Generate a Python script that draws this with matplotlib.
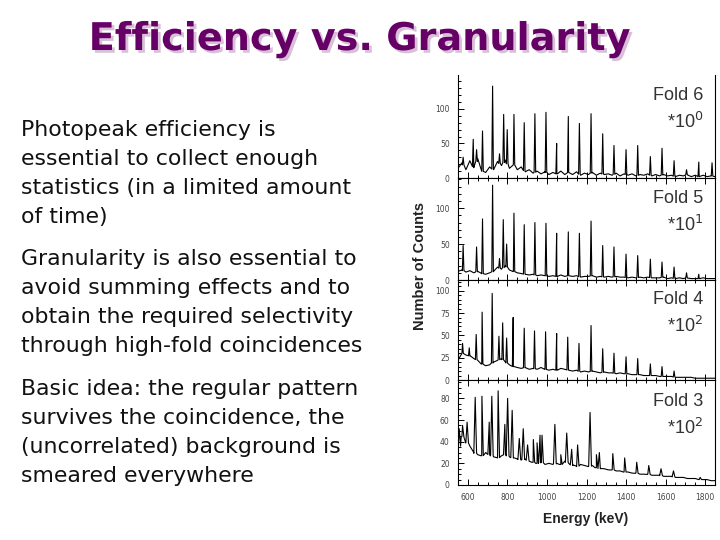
import matplotlib
matplotlib.use("Agg")
import matplotlib.pyplot as plt
import matplotlib.patheffects as pe
import numpy as np

# background sample energies (keV) shared by all panels
bg_energy = np.arange(550, 1851, 20)

# fold 6 (x 10^0)
fold6_bg = [14, 22, 12, 25, 15, 28, 10, 8, 16, 12, 24, 18, 26, 14, 20, 12, 16, 9, 12, 7,
            10, 6, 9, 5, 8, 6, 10, 5, 8, 5, 9, 4, 7, 5, 8, 4, 7, 5, 6, 4,
            7, 3, 6, 4, 6, 3, 5, 4, 6, 3, 5, 3, 5, 3, 4, 2, 4, 3, 5, 2,
            4, 2, 4, 2, 3, 2]
fold6_pk_e = [576, 627, 644, 674, 725, 760, 781, 799, 833, 885, 939, 995, 1049, 1108, 1164,
              1223, 1282, 1339, 1400, 1459, 1523, 1582, 1643, 1706, 1768, 1835]
fold6_pk_h = [30, 56, 41, 68, 133, 35, 92, 70, 92, 80, 93, 95, 50, 89, 79,
              93, 64, 47, 41, 47, 31, 43, 25, 12, 23, 22]

# fold 5 (x 10^1)
fold5_bg = [12, 14, 11, 13, 10, 12, 9, 8, 10, 12, 18, 15, 20, 14, 12, 10, 9, 8, 7, 8,
            6, 7, 6, 5, 6, 5, 7, 5, 6, 5, 6, 4, 5, 5, 6, 4, 5, 4, 5, 4,
            5, 4, 4, 3, 4, 3, 4, 3, 4, 3, 3, 3, 4, 2, 3, 2, 3, 2, 3, 2,
            2, 2, 3, 2, 2, 2]
fold5_pk_e = [576, 644, 674, 725, 760, 779, 796, 833, 885, 939, 995, 1049, 1108, 1164,
              1223, 1282, 1339, 1400, 1459, 1523, 1582, 1643, 1706, 1768]
fold5_pk_h = [48, 46, 85, 132, 30, 84, 50, 93, 77, 80, 79, 65, 67, 65,
              82, 48, 46, 36, 34, 29, 25, 18, 10, 8]

# fold 4 (x 10^2)
fold4_bg = [22, 30, 28, 27, 24, 22, 18, 16, 17, 20, 22, 24, 20, 17, 15, 14, 13, 14, 12, 13,
            12, 14, 12, 11, 12, 11, 13, 12, 11, 10, 11, 9, 10, 9, 10, 9, 8, 9, 8, 8,
            7, 8, 7, 7, 6, 6, 6, 5, 5, 5, 5, 4, 4, 4, 4, 3, 3, 3, 3, 3,
            2, 2, 2, 2, 2, 2]
fold4_pk_e = [573, 607, 642, 672, 723, 757, 776, 796, 829, 885, 937, 993, 1049, 1105,
              1162, 1223, 1282, 1339, 1400, 1459, 1523, 1582, 1643]
fold4_pk_h = [41, 36, 51, 76, 97, 49, 64, 47, 70, 58, 55, 54, 52, 48,
              41, 61, 35, 30, 26, 24, 18, 15, 10]

# fold 3 (x 10^2)
fold3_bg = [32, 45, 40, 36, 30, 28, 27, 30, 28, 26, 25, 27, 28, 26, 25, 24, 23, 24, 22, 21,
            20, 21, 19, 20, 19, 20, 19, 22, 20, 18, 17, 19, 18, 17, 18, 16, 15, 15, 14, 14,
            13, 13, 12, 12, 11, 11, 10, 10, 10, 9, 9, 9, 8, 8, 8, 7, 7, 7, 6, 6,
            6, 5, 5, 5, 4, 4]
fold3_pk_e = [556, 573, 596, 637, 671, 708, 721, 753, 787, 801, 824, 860, 880, 902, 931,
              950, 965, 975, 1040, 1070, 1100, 1125, 1155, 1218, 1250, 1265, 1333, 1393,
              1454, 1515, 1577, 1640, 1775]
fold3_pk_h = [52, 55, 58, 81, 82, 58, 82, 87, 56, 80, 69, 43, 52, 37, 42,
              39, 46, 46, 56, 28, 48, 33, 37, 67, 28, 30, 29, 25,
              21, 18, 15, 13, 7]

panels = [
    ("Fold 6", "0", fold6_bg, fold6_pk_e, fold6_pk_h, [0, 50, 100], 10, 149, 4),
    ("Fold 5", "1", fold5_bg, fold5_pk_e, fold5_pk_h, [0, 50, 100], 10, 142, 4),
    ("Fold 4", "2", fold4_bg, fold4_pk_e, fold4_pk_h, [0, 25, 50, 75, 100], 5, 112, 4),
    ("Fold 3", "2", fold3_bg, fold3_pk_e, fold3_pk_h, [0, 20, 40, 60, 80], 5, 97, 7),
]
panel_px = [(75, 178), (178, 280), (280, 380), (380, 485)]

bullets = [
    "Photopeak efficiency is\nessential to collect enough\nstatistics (in a limited amount\nof time)",
    "Granularity is also essential to\navoid summing effects and to\nobtain the required selectivity\nthrough high-fold coincidences",
    "Basic idea: the regular pattern\nsurvives the coincidence, the\n(uncorrelated) background is\nsmeared everywhere",
]
bullet_top_px = [120, 249, 379]

W, H = 720, 540


def fx(x):
    return x / W


def fy(y):
    return 1 - y / H


def spectrum(bg, pk_e, pk_h, half):
    # merge background samples with narrow spikes at the peak energies
    bg = np.asarray(bg, float)
    e = list(bg_energy)
    c = list(bg)
    for pe_, ph in zip(pk_e, pk_h):
        base = np.interp(pe_, bg_energy, bg)
        e += [pe_ - half, pe_, pe_ + half]
        c += [base, ph, base]
    order = np.argsort(e, kind="stable")
    return np.array(e)[order], np.array(c)[order]


fig = plt.figure(figsize=(7.2, 5.4), dpi=100)

# title with a soft shadow
fig.text(0.5, fy(40), "Efficiency vs. Granularity", ha="center", va="center",
         fontsize=27.5, fontweight="bold", color="#660066",
         path_effects=[pe.SimplePatchShadow(offset=(2, -2), shadow_rgbFace="#d8c0d8", alpha=1),
                       pe.Normal()])

for txt, ytop in zip(bullets, bullet_top_px):
    fig.text(fx(21), fy(ytop), txt, ha="left", va="top", fontsize=15.8,
             color="#111111", linespacing=1.56)

for i, (name, power, bg, pk_e, pk_h, yt, ymin_step, ytop, half) in enumerate(panels):
    y0, y1 = panel_px[i]
    ax = fig.add_axes([fx(458), fy(y1), fx(715) - fx(458), (y1 - y0) / H])
    e, c = spectrum(bg, pk_e, pk_h, half)
    ax.plot(e, c, color="black", lw=0.8)
    ax.set_xlim(550, 1850)
    ax.set_ylim(0, ytop)
    ax.set_yticks(yt)
    ax.set_yticks(np.arange(0, ytop, ymin_step), minor=True)
    ax.set_xticks(np.arange(600, 1801, 200))
    ax.set_xticks(np.arange(550, 1851, 50), minor=True)
    ax.tick_params(axis="both", which="both", direction="in", top=True, right=False,
                   labelsize=5.5, labelcolor="#444444", width=0.7)
    ax.tick_params(which="major", length=4)
    ax.tick_params(which="minor", length=2.5)
    ax.tick_params(axis="y", pad=6)
    ax.tick_params(axis="x", pad=6)
    if i < 3:
        ax.tick_params(axis="x", labelbottom=False)
    if i == 0:
        ax.spines["top"].set_visible(False)
        ax.tick_params(axis="x", top=False, which="both")
    for s in ax.spines.values():
        s.set_linewidth(0.8)
    ax.text(0.955, 0.80, name, transform=ax.transAxes, ha="right", va="center",
            fontsize=13, color="#333333", family="Liberation Sans")
    ax.text(0.955, 0.54, r"*10$^{%s}$" % power, transform=ax.transAxes, ha="right",
            va="center", fontsize=13, color="#333333", family="Liberation Sans")

fig.text(fx(420), fy(266), "Number of Counts", rotation=90, ha="center", va="center",
         fontsize=10.5, fontweight="bold", color="#222222", family="Liberation Sans")
fig.text(fx(586), fy(519), "Energy (keV)", ha="center", va="center",
         fontsize=10, fontweight="bold", color="#222222", family="Liberation Sans")

fig.savefig("out.png", dpi=100)
